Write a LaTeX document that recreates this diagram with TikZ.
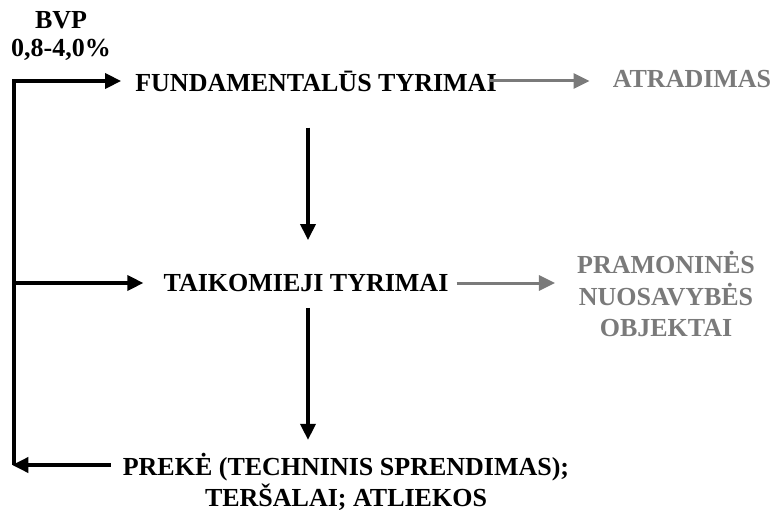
\documentclass[tikz,border=0pt]{standalone}
\usepackage{fontspec}
\setmainfont{Liberation Serif}
\usetikzlibrary{positioning,arrows.meta}
\definecolor{outgray}{HTML}{7A7A7A}

\begin{document}
\begin{tikzpicture}[x=1pt, y=-1pt,
    txt/.style={font=\fontsize{26}{31.5}\selectfont\bfseries, inner sep=0pt, align=center},
    outtxt/.style={txt, text=outgray},
    flow/.style={line width=3.5pt, -{Triangle[length=16pt, width=15pt]}},
    outflow/.style={flow, outgray, line width=3pt}]
    \useasboundingbox (0,0) rectangle (774,511);

    % Labels
    \node[txt] (bvp) at (61,20) {BVP};
    \node[txt] (share) at (61,50) {0,8-4,0\%};
    \node[txt] (fund) at (316,81) {FUNDAMENTALŪS TYRIMAI};
    \node[txt] (appl) at (306,283) {TAIKOMIEJI TYRIMAI};
    \node[txt] (prod) at (346,467) {PREKĖ (TECHNINIS SPRENDIMAS);};
    \node[txt] (waste) at (346,497) {TERŠALAI; ATLIEKOS};

    % Outcomes (gray)
    \node[outtxt] (disc) at (692,79) {ATRADIMAS};
    \node[outtxt] (ipo) at (666,294) {PRAMONINĖS\\NUOSAVYBĖS\\OBJEKTAI};

    % Feedback loop on the left
    \coordinate (top) at (14,81);
    \coordinate (mid) at (14,283);
    \coordinate (bot) at (14,465);
    \draw[line width=3.5pt] (bot) -- (top);
    \draw[flow, shorten >=14pt] ([xshift=-1.75pt]top) -- (fund.west);
    \draw[flow, shorten >=20pt] (mid) -- (appl.west);
    \draw[flow, shorten <=12pt] (prod.west |- bot) -- ([xshift=-1.75pt]bot);

    % Down the chain
    \draw[flow, shorten <=36pt, shorten >=34pt] ([xshift=2pt]appl.north |- fund.south) -- ([xshift=2pt]appl.north);
    \draw[flow, shorten <=16pt, shorten >=13pt] ([xshift=2pt]appl.south) -- ([xshift=2pt]appl.south |- prod.north);

    % Results
    \draw[outflow, shorten <=-8pt, shorten >=23pt] (fund.east) -- (disc.west |- fund.east);
    \draw[outflow, shorten <=8pt, shorten >=22pt] (appl.east) -- (ipo.west |- appl.east);
\end{tikzpicture}
\end{document}
